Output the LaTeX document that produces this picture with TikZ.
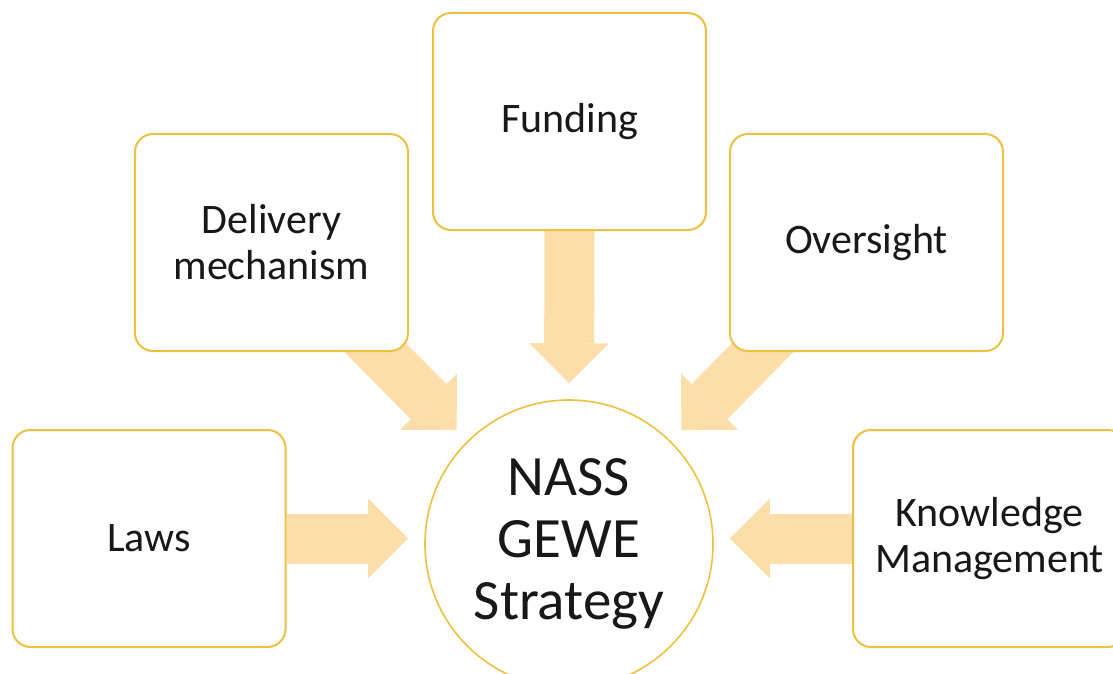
\documentclass[tikz,border=0pt]{standalone}
\usepackage{fontspec}
\setmainfont{Carlito}
\usetikzlibrary{arrows.meta,calc}
\pgfdeclarelayer{background}
\pgfsetlayers{background,main}
\definecolor{gold}{RGB}{238,192,64}
\definecolor{peach}{RGB}{252,222,170}
\definecolor{ink}{RGB}{24,24,24}
\begin{document}
\begin{tikzpicture}[x=1pt,y=-1pt,
  factor/.style={draw=gold, line width=2pt, fill=white, rounded corners=18pt,
    minimum width=273pt, minimum height=217pt, inner sep=0pt, align=center,
    text=ink, font=\fontsize{42}{46}\selectfont},
  hub/.style={circle, draw=gold, line width=1.6pt, fill=white, minimum size=288pt,
    inner sep=0pt, align=center, text=ink, font=\fontsize{57}{62}\selectfont},
  blockarrow/.style={draw=peach, line width=50pt,
    -{Triangle[length=40pt,width=80pt,line width=0pt]}, shorten >=16pt}
]
\useasboundingbox (0,0) rectangle (1113,674);

% the five contributing factors
\node[factor] (fund)  at (569.5,121.5) {Funding};
\node[factor] (deliv) at (271.5,242.5) {Delivery\\mechanism};
\node[factor] (over)  at (866.5,242.5) {Oversight};
\node[factor] (laws)  at (149,538.5)   {Laws};
\node[factor] (know)  at (989.5,538.5) {Knowledge\\Management};

% central strategy
\node[hub] (core) at (569,544) {NASS\\GEWE\\Strategy};

% block arrows pointing into the strategy
\begin{pgfonlayer}{background}
  \draw[blockarrow] (fund.south) -- (core.north);
  \draw[blockarrow] (laws.east) -- (laws.east -| core.west);
  \draw[blockarrow] (know.west) -- (know.west -| core.east);
  \draw[blockarrow, shorten >=160pt] (deliv.center) -- (core.center);
  \draw[blockarrow, shorten >=160pt] (over.center) -- (core.center);
\end{pgfonlayer}
\end{tikzpicture}
\end{document}
